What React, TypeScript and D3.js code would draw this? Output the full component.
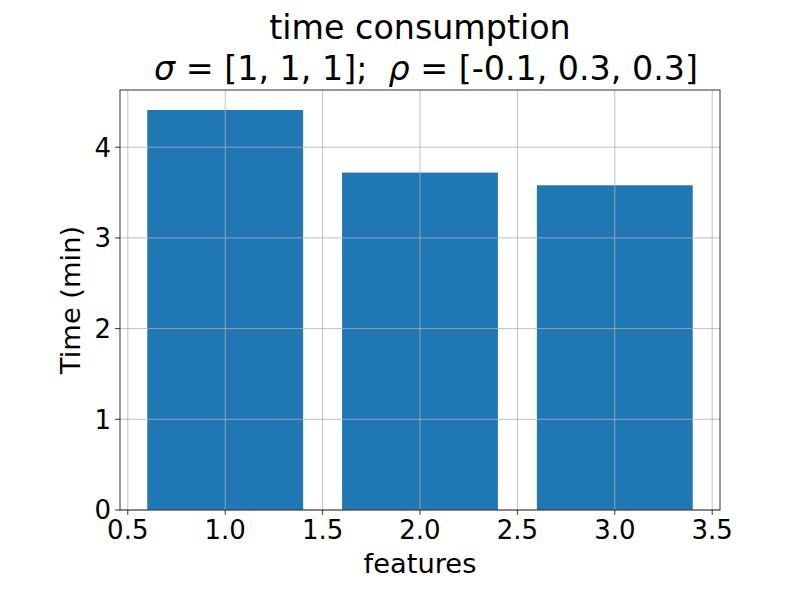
import React from "react";
import * as d3 from "d3";

const categories = [1, 2, 3];
const values = [4.41, 3.72, 3.58];
const xTicks = [0.5, 1.0, 1.5, 2.0, 2.5, 3.0, 3.5];
const yTicks = [0, 1, 2, 3, 4];

const W = 800, H = 600;
const L = 120, R = 720, T = 90, B = 510;
const FONT = "DejaVu Sans, sans-serif";

export default function App() {
  const barW = 0.8;
  const xMin = d3.min(categories)! - barW / 2;
  const xMax = d3.max(categories)! + barW / 2;
  const xPad = (xMax - xMin) * 0.05;
  const x = d3.scaleLinear().domain([xMin - xPad, xMax + xPad]).range([L, R]);
  const yMax = d3.max(values)! * 1.05;
  const y = d3.scaleLinear().domain([0, yMax]).range([B, T]);

  return (
    <svg width={W} height={H} style={{ display: "block", position: "absolute", left: 0, top: 0 }} fontFamily={FONT}>
      <rect x={0} y={0} width={W} height={H} fill="white" />
      {categories.map((c, i) => (
        <rect key={i} x={x(c - barW / 2)} y={y(values[i])} width={x(c + barW / 2) - x(c - barW / 2)} height={B - y(values[i])} fill="#1f77b4" />
      ))}
      {xTicks.map((t) => (
        <line key={"gx" + t} x1={x(t)} x2={x(t)} y1={T} y2={B} stroke="#b0b0b0" strokeWidth={0.8} />
      ))}
      {yTicks.map((t) => (
        <line key={"gy" + t} x1={L} x2={R} y1={y(t)} y2={y(t)} stroke="#b0b0b0" strokeWidth={0.8} />
      ))}
      <rect x={L} y={T} width={R - L} height={B - T} fill="none" stroke="black" strokeWidth={0.8} />
      {xTicks.map((t) => (
        <g key={"tx" + t}>
          <line x1={x(t)} x2={x(t)} y1={B} y2={B + 4.9} stroke="black" strokeWidth={0.8} />
          <text x={x(t)} y={B + 9.5} dy="0.76em" textAnchor="middle" fontSize={26}>{d3.format(".1f")(t)}</text>
        </g>
      ))}
      {yTicks.map((t) => (
        <g key={"ty" + t}>
          <line x1={L} x2={L - 4.9} y1={y(t)} y2={y(t)} stroke="black" strokeWidth={0.8} />
          <text x={L - 9} y={y(t)} dy="0.36em" textAnchor="end" fontSize={26}>{t}</text>
        </g>
      ))}
      <text x={(L + R) / 2} y={573} textAnchor="middle" fontSize={27.3}>features</text>
      <text transform={`translate(${80},${(T + B) / 2}) rotate(-90)`} textAnchor="middle" fontSize={27.3}>Time (min)</text>
      <text x={(L + R) / 2} y={39} textAnchor="middle" fontSize={33.3}>time consumption</text>
      <text x={(L + R) / 2 + 6} y={80} textAnchor="middle" fontSize={33.3} style={{ whiteSpace: "pre" }}>
        <tspan fontStyle="italic">σ</tspan>{" = [1, 1, 1];  "}<tspan fontStyle="italic">ρ</tspan>{" = [-0.1, 0.3, 0.3]"}
      </text>
    </svg>
  );
}
